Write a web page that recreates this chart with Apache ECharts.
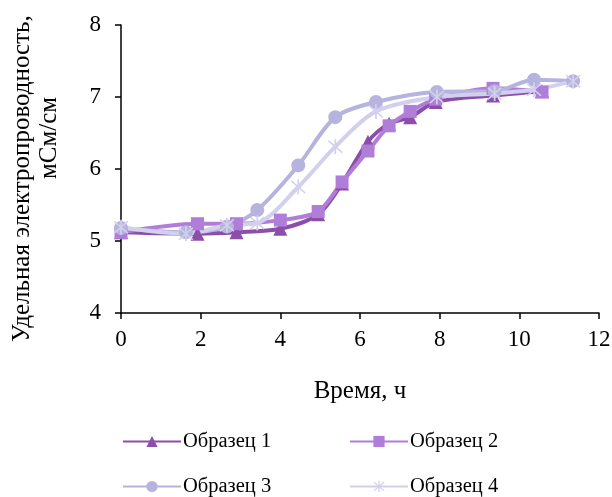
<!DOCTYPE html>
<html>
<head>
<meta charset="utf-8">
<script src="https://cdn.jsdelivr.net/npm/echarts@6/dist/echarts.min.js"></script>
<style>
  html, body { margin: 0; padding: 0; background: #fff; }
  #chart { width: 612px; height: 497px; }
</style>
</head>
<body>
<div id="chart"></div>
<script>
// данные
const seriesNames = ['Образец 1', 'Образец 2', 'Образец 3', 'Образец 4'];

const time12 = [0, 1.92, 2.9, 4.0, 4.95, 5.55, 6.2, 6.73, 7.26, 7.9, 9.34, 10.57];
const sample1 = [5.12, 5.1, 5.12, 5.17, 5.37, 5.8, 6.38, 6.63, 6.72, 6.93, 7.02, 7.08];
const sample2 = [5.12, 5.24, 5.24, 5.29, 5.41, 5.82, 6.25, 6.6, 6.8, 6.97, 7.12, 7.07];

const time34 = [0, 1.63, 2.66, 3.42, 4.45, 5.38, 6.4, 7.93, 9.38, 10.37, 11.35];
const sample3 = [5.18, 5.12, 5.2, 5.43, 6.05, 6.72, 6.93, 7.07, 7.08, 7.24, 7.22];
const sample4 = [5.19, 5.1, 5.22, 5.25, 5.75, 6.31, 6.8, 7.0, 7.05, 7.1, 7.22];

const xTicks = [0, 2, 4, 6, 8, 10, 12];
const yTicks = [4, 5, 6, 7, 8];

const colors = ['#8B4FAA', '#B07DD8', '#B6B4DE', '#D2D0EC'];

// звёздочка для 4-го образца
const asterisk = 'path://M-1,-10L1,-10L1,10L-1,10Z' +
    'M-7.3,-8.7L8.7,7.3L7.3,8.7L-8.7,-7.3Z' +
    'M7.3,-8.7L8.7,-7.3L-7.3,8.7L-8.7,7.3Z';
const symbols = ['triangle', 'rect', 'circle', asterisk];
const sizes = [14, 13, 14, 15];

function pairs(xs, ys) {
    return xs.map((x, i) => [x, ys[i]]);
}
const allData = [
    pairs(time12, sample1),
    pairs(time12, sample2),
    pairs(time34, sample3),
    pairs(time34, sample4)
];

const font = 'Liberation Serif';
const chart = echarts.init(document.getElementById('chart'));

const legendPos = [
    { left: 122, top: 431 },
    { left: 349, top: 431 },
    { left: 122, top: 476 },
    { left: 349, top: 476 }
];

chart.setOption({
    animation: false,
    color: colors,
    grid: { left: 121, right: 13, top: 25, bottom: 184, outerBoundsMode: 'none' },
    legend: seriesNames.map((name, i) => ({
        data: [name],
        left: legendPos[i].left,
        top: legendPos[i].top,
        padding: 0,
        itemWidth: 58,
        itemHeight: 14,
        itemGap: 0,
        textStyle: { fontFamily: font, fontSize: 20.5, color: '#000', padding: [0, 0, 0, -3] },
        selectedMode: false
    })),
    xAxis: {
        type: 'value',
        min: 0,
        max: 12,
        interval: 2,
        name: 'Время, ч',
        nameLocation: 'middle',
        nameGap: 66,
        nameTextStyle: { fontFamily: font, fontSize: 25, color: '#000' },
        axisLine: { onZero: false, lineStyle: { color: '#000', width: 1.5 } },
        axisTick: { show: true, length: 6, lineStyle: { color: '#000', width: 1.5 } },
        axisLabel: {
            fontFamily: font, fontSize: 23, color: '#000', margin: 15,
            formatter: v => xTicks.includes(v) ? String(v) : ''
        },
        splitLine: { show: false }
    },
    yAxis: {
        type: 'value',
        min: 4,
        max: 8,
        interval: 1,
        // пробелы в конце первой строки сдвигают её вниз, как в оригинале
        name: 'Удельная электропроводность,' + ' '.repeat(13) + '\nмСм/см',
        nameLocation: 'middle',
        nameRotate: 90,
        nameGap: 58,
        nameTextStyle: {
            fontFamily: font, fontSize: 25, color: '#000', lineHeight: 27,
            padding: [0, 0, 0, 62]
        },
        axisLine: { show: true, lineStyle: { color: '#000', width: 1.5 } },
        axisTick: { show: true, length: 6, lineStyle: { color: '#000', width: 1.5 } },
        axisLabel: {
            fontFamily: font, fontSize: 23, color: '#000', margin: 20,
            formatter: v => yTicks.includes(v) ? String(v) : ''
        },
        splitLine: { show: false }
    },
    series: seriesNames.map((name, i) => ({
        name: name,
        type: 'line',
        smooth: 0.3,
        data: allData[i],
        symbol: symbols[i],
        symbolSize: sizes[i],
        showAllSymbol: true,
        lineStyle: { width: 4, color: colors[i] },
        itemStyle: { color: colors[i] }
    }))
});
</script>
</body>
</html>
